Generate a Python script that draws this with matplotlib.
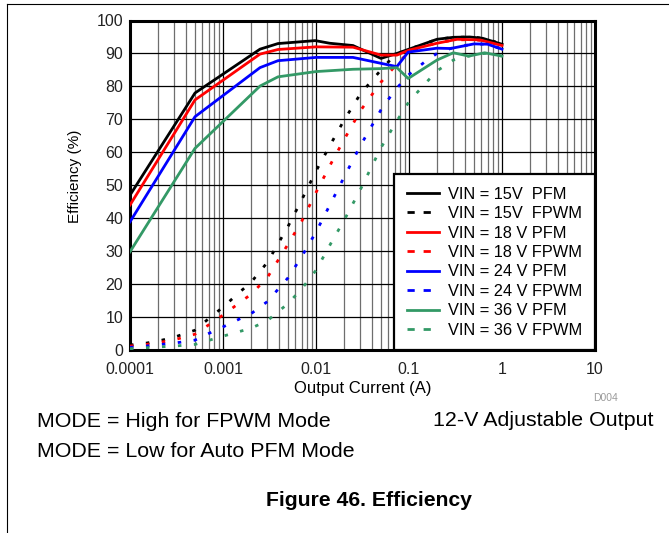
import matplotlib
matplotlib.use("Agg")
import matplotlib.pyplot as plt
from matplotlib.lines import Line2D
from matplotlib.ticker import LogLocator, NullFormatter

plt.rcParams['font.family'] = ['Liberation Sans', 'DejaVu Sans']

# Data
# PFM curves, each with its own current points
i_pfm_15 = [0.0001, 0.0005, 0.0025, 0.0039, 0.0098, 0.014, 0.025, 0.05, 0.074, 0.1, 0.2, 0.3, 0.45, 0.62, 1.0]
eff_pfm_15 = [47.0, 78.0, 91.3, 93.0, 93.9, 93.1, 92.4, 88.5, 90.0, 91.3, 94.3, 94.9, 95.0, 94.6, 92.8]

i_pfm_18 = [0.0001, 0.0005, 0.0025, 0.0039, 0.01, 0.025, 0.05, 0.074, 0.1, 0.2, 0.33, 0.58, 1.0]
eff_pfm_18 = [44.0, 75.9, 89.8, 91.2, 92.0, 91.9, 89.5, 89.5, 91.0, 93.1, 94.3, 94.1, 92.4]

i_pfm_24 = [0.0001, 0.0005, 0.0025, 0.0039, 0.01, 0.025, 0.05, 0.074, 0.098, 0.2, 0.28, 0.5, 0.7, 1.0]
eff_pfm_24 = [38.9, 70.8, 85.7, 87.8, 88.8, 88.8, 87.0, 86.0, 90.4, 91.6, 91.5, 92.9, 92.8, 91.3]

i_pfm_36 = [0.0001, 0.0005, 0.0025, 0.0039, 0.01, 0.025, 0.05, 0.074, 0.098, 0.2, 0.3, 0.44, 0.65, 1.0]
eff_pfm_36 = [29.8, 61.2, 80.1, 82.9, 84.5, 85.2, 85.4, 85.7, 82.4, 88.0, 90.2, 89.2, 90.2, 89.2]

# FPWM curves on a shared current grid
i_fpwm = [0.0001, 0.00015, 0.0002, 0.0003, 0.0005, 0.0007, 0.001, 0.0015, 0.002, 0.003,
          0.005, 0.007, 0.01, 0.015, 0.02, 0.03, 0.05, 0.07, 0.1, 0.15, 0.2, 0.3, 0.5, 0.7, 1.0]
eff_fpwm_15 = [1.5, 2.1, 2.7, 3.9, 6.0, 9.5, 13.0, 17.5, 20.5, 26.6, 37.5, 45.5, 54.3, 63.4, 69.7,
               77.7, 85.0, 89.5, 91.3, 93.0, 94.3, 94.9, 95.0, 94.3, 92.8]
eff_fpwm_18 = [1.2, 1.7, 2.2, 3.1, 4.8, 7.6, 10.6, 14.3, 16.9, 22.0, 32.1, 39.0, 47.8, 57.4, 63.8,
               72.6, 81.3, 86.0, 90.5, 92.3, 93.1, 94.1, 94.2, 93.7, 92.4]
eff_fpwm_24 = [0.8, 1.2, 1.6, 2.1, 3.0, 5.0, 7.0, 9.4, 11.0, 14.7, 21.9, 28.3, 35.8, 45.5, 52.4,
               62.0, 72.9, 78.7, 83.6, 87.6, 90.0, 91.8, 92.9, 92.8, 91.3]
eff_fpwm_36 = [0.4, 0.7, 0.9, 1.2, 1.7, 2.9, 4.2, 5.6, 6.6, 8.9, 14.1, 18.5, 24.2, 33.2, 39.3,
               48.7, 61.4, 68.4, 75.4, 80.9, 84.7, 88.0, 89.6, 90.1, 89.2]

labels = ["VIN = 15V  PFM", "VIN = 15V  FPWM", "VIN = 18 V PFM", "VIN = 18 V FPWM",
          "VIN = 24 V PFM", "VIN = 24 V FPWM", "VIN = 36 V PFM", "VIN = 36 V FPWM"]
x_ticks = [0.0001, 0.001, 0.01, 0.1, 1, 10]
x_tick_labels = ["0.0001", "0.001", "0.01", "0.1", "1", "10"]

colors = ["black", "#ff0000", "#0000ff", "#339966"]
pfm = [(i_pfm_15, eff_pfm_15), (i_pfm_18, eff_pfm_18), (i_pfm_24, eff_pfm_24), (i_pfm_36, eff_pfm_36)]
fpwm = [eff_fpwm_15, eff_fpwm_18, eff_fpwm_24, eff_fpwm_36]

W, H = 669, 533
fig = plt.figure(figsize=(W / 100, H / 100), dpi=100)
ax = fig.add_axes([130 / W, 1 - 350 / H, 465 / W, 329.5 / H])

# FPWM first (short dashes), PFM solid on top
for eff, c in zip(fpwm, colors):
    ax.plot(i_fpwm, eff, color=c, lw=2.0, dashes=(1.26, 4.5), dash_capstyle='butt', zorder=3)
for (cur, eff), c in zip(pfm, colors):
    ax.plot(cur, eff, color=c, lw=2.0, zorder=4)

ax.set_xscale('log')
ax.set_xlim(1e-4, 10)
ax.set_ylim(0, 100)
ax.set_yticks(range(0, 101, 10))
ax.set_xticks(x_ticks)
ax.set_xticklabels(x_tick_labels)
ax.xaxis.set_minor_locator(LogLocator(base=10, subs=range(2, 10), numticks=20))
ax.xaxis.set_minor_formatter(NullFormatter())

ax.grid(which='major', color='black', lw=0.9, zorder=1)
ax.grid(which='minor', axis='x', color='#6e6e6e', lw=0.9, zorder=1)
ax.set_axisbelow(True)
ax.tick_params(which='both', length=0, labelsize=11.5, colors='#222222')
ax.tick_params(axis='y', pad=5)
ax.tick_params(axis='x', pad=9)
for s in ax.spines.values():
    s.set_linewidth(2.2)

# Legend with proxy handles (longer dashes in the legend)
handles = []
for c in colors:
    handles.append(Line2D([], [], color=c, lw=2.0))
    handles.append(Line2D([], [], color=c, lw=2.0, dashes=(2.6, 3.2)))
leg = ax.legend(handles, labels, loc='lower right', borderaxespad=0, fontsize=11.8,
                handlelength=2.0, handletextpad=0.55, labelspacing=0.27, borderpad=0.75,
                fancybox=False, framealpha=1, edgecolor='black')
leg.get_frame().set_linewidth(1.6)
leg.set_zorder(6)

# Axis labels and notes
fig.text(362.5 / W, 1 - 393.3 / H, "Output Current (A)", ha='center', va='baseline', fontsize=12)
fig.text(75 / W, 1 - 176 / H, "Efficiency (%)", rotation=90, ha='center', va='center', fontsize=11)
fig.text(606 / W, 1 - 400.7 / H, "D004", ha='center', va='baseline', fontsize=7.5, color='#9a9a9a')
fig.text(36.7 / W, 1 - 427.3 / H, "MODE = High for FPWM Mode", ha='left', va='baseline', fontsize=15.4)
fig.text(36.7 / W, 1 - 457.3 / H, "MODE = Low for Auto PFM Mode", ha='left', va='baseline', fontsize=15.4)
fig.text(433.3 / W, 1 - 425.7 / H, "12-V Adjustable Output", ha='left', va='baseline', fontsize=15.4)
fig.text(369 / W, 1 - 505.7 / H, "Figure 46. Efficiency", ha='center', va='baseline',
         fontsize=15.2, fontweight='bold')

# page frame lines (top and left)
fig.add_artist(Line2D([7 / W, 1], [1 - 4 / H, 1 - 4 / H], transform=fig.transFigure, color='black', lw=0.8))
fig.add_artist(Line2D([7 / W, 7 / W], [0, 1 - 4 / H], transform=fig.transFigure, color='black', lw=0.8))

fig.savefig("out.png", dpi=100)
